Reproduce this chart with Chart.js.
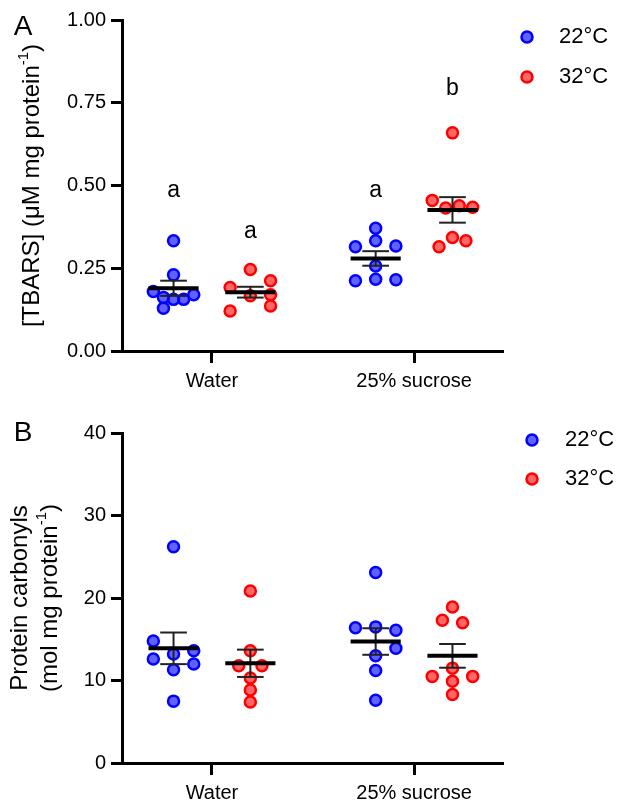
<!DOCTYPE html>
<html>
<head>
<meta charset="utf-8">
<script src="https://cdn.jsdelivr.net/npm/chart.js@4.4.1/dist/chart.umd.min.js"></script>
<style>
  html, body { margin: 0; padding: 0; background: #fff; }
  #wrap { position: relative; width: 617px; height: 805px; }
  canvas { position: absolute; left: 0; }
</style>
</head>
<body>
<div id="wrap">
  <canvas id="chartA" width="617" height="400" style="top:0"></canvas>
  <canvas id="chartB" width="617" height="405" style="top:400px"></canvas>
</div>
<script>
const groups = ['Water', '25% sucrose'];
const seriesNames = ['22°C', '32°C'];

// panel A - TBARS (uM mg protein-1)
const tbars22Water = [0.333, 0.230, 0.180, 0.162, 0.156, 0.156, 0.170, 0.129];
const tbars32Water = [0.246, 0.192, 0.212, 0.167, 0.170, 0.136, 0.121];
const tbars22Sucrose = [0.371, 0.333, 0.315, 0.317, 0.257, 0.212, 0.217, 0.215];
const tbars32Sucrose = [0.659, 0.455, 0.432, 0.439, 0.434, 0.343, 0.333, 0.315];
// horizontal scatter column of each point
const jitA22Water = [0, 0, -2, -1, 0, 1, 2, -1];
const jitA32Water = [0, -2, 2, 0, 2, 2, -2];
const jitA22Sucrose = [0, 0, -2, 2, 0, -2, 0, 2];
const jitA32Sucrose = [0, -2, -0.67, 0.67, 2, 0, 1.33, -1.33];
const tbarsTicks = [0, 0.25, 0.5, 0.75, 1];
// significance letters: 22 water, 32 water, 22 sucrose, 32 sucrose
const tbarsLetters = ['a', 'a', 'a', 'b'];
const tbarsLetterLevel = [0.464, 0.342, 0.464, 0.773];

// panel B - protein carbonyls (mol mg protein-1)
const carb22Water = [26.2, 14.8, 13.6, 13.2, 12.6, 12.0, 11.3, 7.5];
const carb32Water = [20.85, 13.6, 11.8, 11.8, 10.3, 8.85, 7.4];
const carb22Sucrose = [23.1, 16.4, 16.5, 16.1, 13.9, 13.0, 11.2, 7.6];
const carb32Sucrose = [18.9, 17.3, 17.0, 11.5, 10.5, 10.5, 9.9, 8.3];
const jitB22Water = [0, -2, 2, 0, -2, 2, 0, 0];
const jitB32Water = [0, 0, -1.15, 1.15, 0, 0, 0];
const jitB22Sucrose = [0, -2, 0, 2, 2, 0, 0, 0];
const jitB32Sucrose = [0, -1, 1, 0, -2, 2, 0, 0];
const carbTicks = [0, 10, 20, 30, 40];

const FONT = '"Liberation Sans", Arial, Helvetica, sans-serif';
const fills = ['rgba(0,0,255,0.62)', 'rgba(255,0,0,0.6)'];
const borders = ['#0000ff', '#ff0000'];
const seriesShift = [-0.19, 0.19];
const jitStep = 0.05;

function meanSem(arr) {
  const n = arr.length;
  const m = arr.reduce((a, b) => a + b, 0) / n;
  const sd = Math.sqrt(arr.reduce((a, b) => a + (b - m) * (b - m), 0) / (n - 1));
  return [m, sd / Math.sqrt(n)];
}

function seg(x0, x1, y0, y1, w, c) {
  return {
    type: 'scatter', showLine: true, order: 0,
    data: [{ x: x0, y: y0 }, { x: x1, y: y1 }],
    borderColor: c, borderWidth: w, pointRadius: 0, clip: false
  };
}

function buildDatasets(values, jitters) {
  const sets = [];
  values.forEach((byGroup, s) => {
    const pts = [];
    byGroup.forEach((arr, g) => {
      arr.forEach((v, i) => pts.push({ x: g + 1 + seriesShift[s] + jitters[s][g][i] * jitStep, y: v }));
    });
    sets.push({
      type: 'scatter', label: seriesNames[s], order: 1, data: pts,
      backgroundColor: fills[s], borderColor: borders[s],
      pointRadius: 5.5, borderWidth: 2.5, clip: false
    });
  });
  values.forEach((byGroup, s) => {
    byGroup.forEach((arr, g) => {
      const [m, se] = meanSem(arr);
      const x0 = g + 1 + seriesShift[s];
      sets.push(seg(x0 - 0.124, x0 + 0.124, m, m, 4, '#000'));
      sets.push(seg(x0, x0, m - se, m + se, 2, '#222'));
      sets.push(seg(x0 - 0.066, x0 + 0.066, m + se, m + se, 2, '#222'));
      sets.push(seg(x0 - 0.066, x0 + 0.066, m - se, m - se, 2, '#222'));
    });
  });
  return sets;
}

function drawRotated(ctx, cx, cy, main, sup, tail, size) {
  ctx.save();
  ctx.translate(cx, cy);
  ctx.rotate(-Math.PI / 2);
  ctx.fillStyle = '#000';
  ctx.textBaseline = 'middle';
  ctx.textAlign = 'left';
  const big = size + 'px ' + FONT, small = Math.round(size * 0.62) + 'px ' + FONT;
  ctx.font = big;
  const w1 = ctx.measureText(main).width, w3 = ctx.measureText(tail).width;
  ctx.font = small;
  const w2 = ctx.measureText(sup).width;
  let x = -(w1 + w2 + w3) / 2;
  ctx.font = big; ctx.fillText(main, x, 0); x += w1;
  ctx.font = small; ctx.fillText(sup, x, -size * 0.33); x += w2;
  ctx.font = big; ctx.fillText(tail, x, 0);
  ctx.restore();
}

function decoPlugin(p) {
  return {
    id: 'deco',
    afterDraw(chart) {
      const ctx = chart.ctx, area = chart.chartArea;
      const cy = (area.top + area.bottom) / 2;
      ctx.save();
      ctx.fillStyle = '#000';
      ctx.font = '28px ' + FONT;
      ctx.textAlign = 'center';
      ctx.textBaseline = 'middle';
      ctx.fillText(p.letter, 23, p.letterY);
      p.title.forEach(t => {
        if (t.plain) drawRotated(ctx, t.x, cy, t.main, '', '', 24);
        else drawRotated(ctx, t.x, cy, t.main, '-1', ')', 24);
      });
      // legend
      seriesNames.forEach((name, s) => {
        const ly = p.legendY[s];
        ctx.beginPath();
        ctx.arc(p.legendX, ly, 5.5, 0, Math.PI * 2);
        ctx.fillStyle = fills[s]; ctx.fill();
        ctx.lineWidth = 2.5; ctx.strokeStyle = borders[s]; ctx.stroke();
        ctx.fillStyle = '#000';
        ctx.font = '22px ' + FONT;
        ctx.textAlign = 'left';
        ctx.textBaseline = 'middle';
        ctx.fillText(name, p.legendTextX, ly);
      });
      // significance letters
      if (p.sig) {
        const xs = chart.scales.x, ys = chart.scales.y;
        ctx.font = '23px ' + FONT;
        ctx.textAlign = 'center';
        ctx.textBaseline = 'alphabetic';
        p.sig.letters.forEach((l, k) => {
          const g = Math.floor(k / 2), s = k % 2;
          ctx.fillText(l, xs.getPixelForValue(g + 1 + seriesShift[s]), ys.getPixelForValue(p.sig.level[k]));
        });
      }
      ctx.restore();
    }
  };
}

function makePanel(id, p) {
  new Chart(document.getElementById(id), {
    type: 'scatter',
    data: { datasets: buildDatasets(p.values, p.jitters) },
    options: {
      responsive: false, devicePixelRatio: 1, animation: false, events: [],
      layout: { padding: { top: p.top, right: 114, left: 0, bottom: 0 } },
      plugins: { legend: { display: false }, tooltip: { enabled: false } },
      scales: {
        x: {
          type: 'linear', min: 0.555, max: 2.44,
          afterBuildTicks: sc => { sc.ticks = [{ value: 1 }, { value: 2 }]; },
          afterFit: sc => { sc.height = p.xHeight; },
          ticks: { callback: v => groups[v - 1], color: '#000', font: { size: 20, family: FONT }, padding: 6, maxRotation: 0 },
          grid: { drawOnChartArea: false, tickLength: 12, tickWidth: 3, tickColor: '#000' },
          border: { color: '#000', width: 3 }
        },
        y: {
          min: p.ticks[0], max: p.ticks[p.ticks.length - 1],
          afterBuildTicks: sc => { sc.ticks = p.ticks.map(v => ({ value: v })); },
          afterFit: sc => { sc.width = 122; },
          ticks: { callback: v => v.toFixed(p.decimals), color: '#000', font: { size: 20, family: FONT }, padding: 5 },
          grid: { drawOnChartArea: false, tickLength: 11, tickWidth: 3, tickColor: '#000' },
          border: { color: '#000', width: 3 }
        }
      }
    },
    plugins: [decoPlugin(p)]
  });
}

makePanel('chartA', {
  values: [[tbars22Water, tbars22Sucrose], [tbars32Water, tbars32Sucrose]],
  jitters: [[jitA22Water, jitA22Sucrose], [jitA32Water, jitA32Sucrose]],
  ticks: tbarsTicks, decimals: 2, top: 20, xHeight: 49,
  letter: 'A', letterY: 27,
  title: [{ x: 32, main: '[TBARS] (\u03BCM mg protein' }],
  legendX: 527, legendTextX: 559, legendY: [37, 77],
  sig: { letters: tbarsLetters, level: tbarsLetterLevel }
});

makePanel('chartB', {
  values: [[carb22Water, carb22Sucrose], [carb32Water, carb32Sucrose]],
  jitters: [[jitB22Water, jitB22Sucrose], [jitB32Water, jitB32Sucrose]],
  ticks: carbTicks, decimals: 0, top: 33, xHeight: 42,
  letter: 'B', letterY: 33,
  title: [{ x: 20, main: 'Protein carbonyls', plain: true }, { x: 50, main: '(mol mg protein' }],
  legendX: 532, legendTextX: 565, legendY: [40, 79]
});
</script>
</body>
</html>
